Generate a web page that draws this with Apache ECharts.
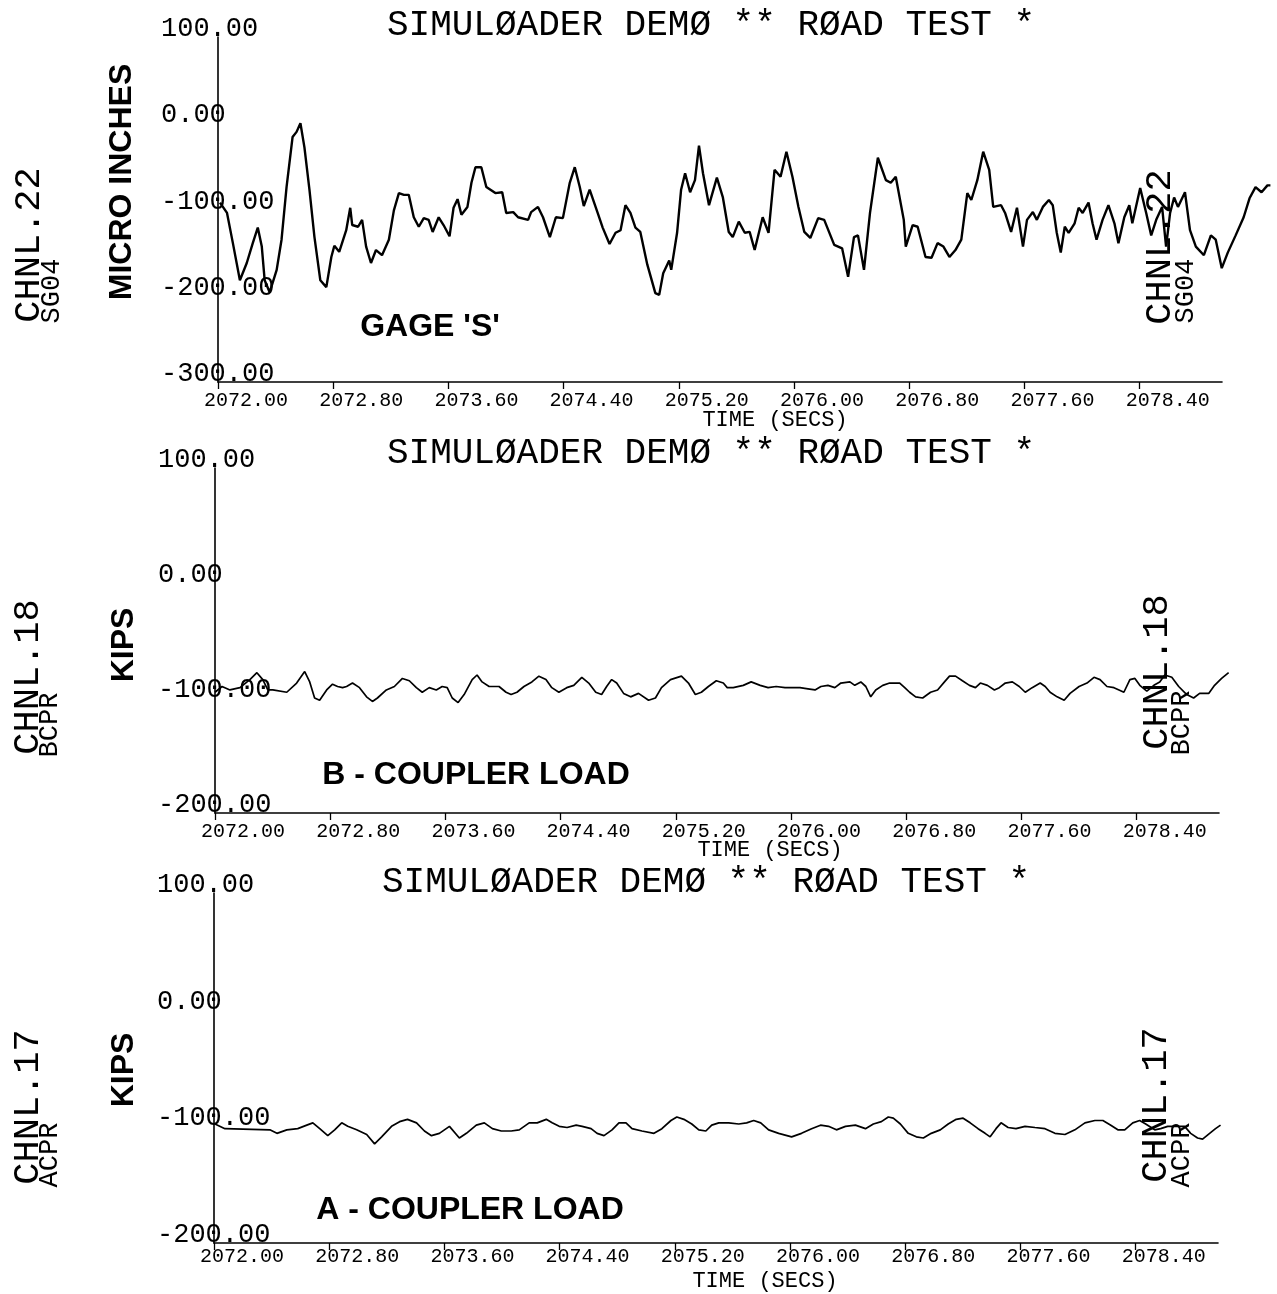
<!DOCTYPE html>
<html><head><meta charset="utf-8">
<script src="https://cdn.jsdelivr.net/npm/echarts@6/dist/echarts.min.js"></script>
<style>html,body{margin:0;padding:0;background:#fff}#c{width:1277px;height:1294px}</style>
</head><body><div id="c"></div>
<script>
// ---------- DATA ----------
const X_TICKS = [2072.00, 2072.80, 2073.60, 2074.40, 2075.20, 2076.00, 2076.80, 2077.60, 2078.40];
const X_MIN = 2072.00, X_MAX = 2078.972;   // drawn axis extent
const X_DATA_MAX = 2079.40;                 // traces run past the axis end
const TITLE = 'SIMULØADER DEMØ ** RØAD TEST *';
const X_NAME = 'TIME (SECS)';

// Panel 1: CHNL.22 SG04, gage 'S' (micro inches)
const T1 = [2072.014,2072.063,2072.104,2072.153,2072.201,2072.243,2072.278,2072.306,2072.326,2072.361,2072.410,2072.444,2072.479,2072.521,2072.549,2072.576,2072.604,2072.639,2072.674,2072.715,2072.757,2072.792,2072.813,2072.847,2072.896,2072.924,2072.938,2072.979,2073.007,2073.035,2073.069,2073.104,2073.146,2073.194,2073.229,2073.264,2073.299,2073.333,2073.368,2073.403,2073.438,2073.472,2073.500,2073.542,2073.576,2073.618,2073.646,2073.674,2073.701,2073.743,2073.771,2073.799,2073.840,2073.875,2073.938,2073.986,2074.014,2074.063,2074.097,2074.167,2074.188,2074.236,2074.271,2074.319,2074.361,2074.410,2074.458,2074.493,2074.528,2074.556,2074.597,2074.653,2074.688,2074.736,2074.778,2074.813,2074.847,2074.882,2074.917,2074.951,2075.000,2075.056,2075.083,2075.111,2075.153,2075.167,2075.208,2075.236,2075.264,2075.299,2075.333,2075.361,2075.389,2075.431,2075.486,2075.528,2075.569,2075.597,2075.639,2075.681,2075.715,2075.750,2075.806,2075.847,2075.889,2075.931,2075.972,2076.014,2076.056,2076.097,2076.139,2076.194,2076.236,2076.306,2076.361,2076.403,2076.444,2076.472,2076.514,2076.556,2076.611,2076.667,2076.701,2076.736,2076.792,2076.806,2076.854,2076.889,2076.944,2076.986,2077.028,2077.069,2077.111,2077.153,2077.194,2077.236,2077.264,2077.306,2077.347,2077.389,2077.417,2077.472,2077.500,2077.542,2077.583,2077.625,2077.653,2077.694,2077.722,2077.764,2077.806,2077.833,2077.861,2077.889,2077.917,2077.944,2077.986,2078.014,2078.042,2078.083,2078.111,2078.139,2078.181,2078.222,2078.264,2078.292,2078.333,2078.368,2078.389,2078.444,2078.486,2078.521,2078.556,2078.597,2078.625,2078.653,2078.681,2078.708,2078.757,2078.792,2078.833,2078.889,2078.938,2078.972,2079.014,2079.056,2079.111,2079.167,2079.208,2079.250,2079.292,2079.333,2079.354];
const V1 = [-92,-104,-139,-182,-162,-139,-121,-143,-182,-196,-170,-135,-74,-16,-10,0,-28,-77,-132,-182,-190,-155,-142,-149,-124,-98,-118,-120,-112,-143,-162,-147,-153,-135,-101,-81,-83,-83,-109,-120,-110,-112,-126,-109,-118,-131,-98,-88,-106,-97,-69,-51,-51,-74,-81,-80,-104,-103,-109,-112,-103,-97,-109,-132,-109,-110,-69,-51,-74,-96,-77,-104,-121,-140,-127,-124,-95,-104,-121,-126,-164,-197,-199,-174,-159,-170,-127,-77,-58,-80,-66,-26,-58,-95,-63,-86,-126,-132,-114,-127,-126,-147,-109,-127,-54,-62,-33,-62,-97,-126,-133,-110,-112,-141,-145,-178,-132,-130,-170,-104,-40,-66,-69,-62,-112,-143,-118,-120,-155,-156,-139,-143,-155,-147,-135,-81,-89,-66,-33,-54,-97,-95,-104,-126,-98,-143,-112,-103,-112,-97,-89,-95,-127,-150,-120,-127,-116,-98,-104,-92,-116,-135,-112,-95,-116,-139,-109,-95,-116,-75,-104,-130,-112,-97,-143,-104,-86,-97,-80,-124,-143,-153,-130,-135,-168,-150,-130,-109,-87,-74,-80,-72,-72];

// Panel 2: CHNL.18 BCPR, B - coupler load (kips)
const T2 = [2072.000,2072.049,2072.104,2072.174,2072.243,2072.292,2072.333,2072.368,2072.403,2072.500,2072.569,2072.625,2072.660,2072.694,2072.729,2072.778,2072.819,2072.854,2072.889,2072.917,2072.958,2073.007,2073.056,2073.097,2073.132,2073.194,2073.250,2073.306,2073.354,2073.403,2073.444,2073.493,2073.542,2073.583,2073.618,2073.653,2073.694,2073.736,2073.792,2073.826,2073.861,2073.910,2073.979,2074.028,2074.063,2074.104,2074.153,2074.208,2074.257,2074.306,2074.347,2074.396,2074.451,2074.500,2074.556,2074.604,2074.653,2074.694,2074.729,2074.764,2074.799,2074.847,2074.896,2074.951,2075.021,2075.069,2075.111,2075.174,2075.250,2075.299,2075.347,2075.389,2075.438,2075.493,2075.542,2075.569,2075.611,2075.681,2075.736,2075.799,2075.854,2075.910,2075.972,2076.014,2076.076,2076.132,2076.181,2076.222,2076.271,2076.319,2076.361,2076.424,2076.458,2076.500,2076.535,2076.569,2076.604,2076.653,2076.701,2076.771,2076.806,2076.840,2076.882,2076.931,2076.986,2077.035,2077.083,2077.118,2077.160,2077.208,2077.257,2077.299,2077.333,2077.382,2077.431,2077.465,2077.507,2077.556,2077.604,2077.646,2077.694,2077.750,2077.785,2077.819,2077.868,2077.917,2077.958,2078.021,2078.076,2078.125,2078.167,2078.215,2078.264,2078.299,2078.333,2078.375,2078.410,2078.444,2078.493,2078.542,2078.583,2078.618,2078.667,2078.715,2078.771,2078.819,2078.861,2078.924,2078.965,2079.014,2079.063];
const V2 = [-95,-90,-93,-91,-84,-78,-84,-93,-93,-95,-87,-77,-86,-100,-102,-93,-88,-90,-91,-90,-87,-91,-99,-103,-100,-93,-90,-83,-85,-91,-95,-91,-93,-90,-91,-100,-104,-97,-84,-80,-86,-90,-90,-95,-97,-95,-90,-86,-81,-84,-91,-95,-91,-89,-82,-87,-95,-97,-90,-84,-87,-96,-99,-96,-102,-100,-91,-84,-81,-87,-97,-95,-90,-85,-87,-91,-91,-89,-86,-89,-91,-90,-91,-91,-91,-92,-93,-90,-89,-91,-87,-86,-89,-86,-90,-99,-93,-89,-87,-87,-91,-95,-99,-100,-95,-93,-86,-81,-81,-85,-89,-91,-87,-89,-93,-91,-87,-86,-90,-95,-91,-87,-90,-95,-99,-102,-96,-90,-87,-82,-84,-90,-91,-93,-95,-84,-83,-89,-94,-89,-86,-80,-82,-90,-97,-100,-96,-96,-89,-83,-78];

// Panel 3: CHNL.17 ACPR, A - coupler load (kips)
const T3 = [2072.007,2072.076,2072.389,2072.438,2072.507,2072.583,2072.646,2072.688,2072.736,2072.792,2072.840,2072.889,2072.931,2072.993,2073.063,2073.118,2073.167,2073.236,2073.292,2073.347,2073.410,2073.465,2073.514,2073.569,2073.639,2073.708,2073.757,2073.826,2073.882,2073.938,2074.000,2074.069,2074.125,2074.194,2074.250,2074.313,2074.354,2074.403,2074.458,2074.521,2074.563,2074.625,2074.667,2074.715,2074.771,2074.819,2074.868,2074.910,2074.979,2075.063,2075.118,2075.181,2075.222,2075.271,2075.326,2075.375,2075.424,2075.465,2075.514,2075.583,2075.653,2075.708,2075.757,2075.806,2075.861,2075.931,2076.021,2076.090,2076.160,2076.222,2076.278,2076.333,2076.396,2076.465,2076.535,2076.590,2076.646,2076.694,2076.729,2076.778,2076.833,2076.889,2076.938,2076.993,2077.056,2077.111,2077.167,2077.215,2077.264,2077.319,2077.368,2077.403,2077.444,2077.479,2077.528,2077.583,2077.646,2077.715,2077.785,2077.854,2077.924,2077.993,2078.063,2078.132,2078.188,2078.243,2078.292,2078.340,2078.396,2078.444,2078.486,2078.549,2078.590,2078.639,2078.757,2078.799,2078.847,2078.882,2078.931,2078.972,2079.007];
const V3 = [-98,-102,-103,-106,-103,-102,-99,-97,-102,-108,-103,-97,-100,-103,-107,-115,-109,-100,-96,-94,-97,-104,-108,-106,-100,-110,-106,-99,-97,-102,-104,-104,-103,-97,-97,-94,-97,-100,-101,-99,-100,-102,-106,-108,-103,-97,-97,-102,-104,-106,-102,-95,-92,-94,-98,-103,-104,-99,-97,-97,-98,-97,-95,-97,-103,-106,-109,-106,-102,-99,-100,-103,-100,-99,-102,-98,-96,-92,-93,-98,-106,-109,-110,-106,-103,-98,-94,-93,-97,-102,-106,-109,-102,-97,-101,-102,-100,-101,-102,-106,-107,-103,-97,-95,-95,-99,-103,-103,-97,-95,-98,-103,-102,-100,-100,-106,-110,-111,-106,-102,-99];

const Y_RANGES = [[-300, 100], [-200, 100], [-200, 100]];
const CHANNELS = ['CHNL.22', 'CHNL.18', 'CHNL.17'];
const GAGES = ['SG04', 'BCPR', 'ACPR'];
const UNITS = ['MICRO INCHES', 'KIPS', 'KIPS'];
const CAPTIONS = ["GAGE 'S'", 'B - COUPLER LOAD', 'A - COUPLER LOAD'];

// ---------- LAYOUT ----------
const MONO = '"Liberation Mono","DejaVu Sans Mono",monospace';
const SANS = '"Liberation Sans",Arial,sans-serif';
const AXIS_W = 1004;
const PX_PER_SEC = AXIS_W / (X_MAX - X_MIN);
const GRIDS = [
  {left: 218, top: 37, width: AXIS_W, height: 345},
  {left: 215, top: 468, width: AXIS_W, height: 345},
  {left: 214, top: 893, width: AXIS_W, height: 350}
];
const X_LABEL_MARGIN = [9, 9, 4];
// data grids share origin and scale with the axis grids but are wider, so traces can run past the axis end
const DATA_GRIDS = GRIDS.map(g => ({left: g.left, top: g.top, height: g.height,
  width: Math.round((X_DATA_MAX - X_MIN) * PX_PER_SEC)}));

const zip = (t, v) => t.slice(0, Math.min(t.length, v.length)).map((x, i) => [x, v[i]]);
const SERIES_DATA = [zip(T1, V1), zip(T2, V2), zip(T3, V3)];
const LW = [2.4, 1.7, 1.7];

const axisLineStyle = {color: '#000', width: 1.6};
const xAxes = [], yAxes = [];
GRIDS.forEach((g, i) => {
  xAxes.push({
    type: 'value', gridIndex: i, min: X_MIN, max: X_MAX,
    axisLine: {show: true, onZero: false, lineStyle: axisLineStyle},
    axisTick: {show: true, length: 7, customValues: X_TICKS, lineStyle: {color: '#000', width: 1.3}},
    axisLabel: {customValues: X_TICKS, formatter: v => v.toFixed(2), align: 'left', padding: [0, 0, 0, -14],
      margin: X_LABEL_MARGIN[i], fontFamily: MONO, fontSize: 20, color: '#000'},
    splitLine: {show: false}
  });
  yAxes.push({
    type: 'value', gridIndex: i, min: Y_RANGES[i][0], max: Y_RANGES[i][1], interval: 100,
    axisLine: {show: true, onZero: false, lineStyle: axisLineStyle},
    axisTick: {show: false},
    splitLine: {show: false},
    axisLabel: {formatter: v => v.toFixed(2), align: 'left', verticalAlign: 'bottom', lineHeight: 16,
      margin: 57, fontFamily: MONO, fontSize: 27, color: '#000', showMinLabel: true, showMaxLabel: true}
  });
});
DATA_GRIDS.forEach((g, i) => {
  xAxes.push({type: 'value', gridIndex: 3 + i, min: X_MIN, max: X_DATA_MAX, show: false});
  yAxes.push({type: 'value', gridIndex: 3 + i, min: Y_RANGES[i][0], max: Y_RANGES[i][1], show: false});
});
const series = SERIES_DATA.map((d, i) => ({
  type: 'line', xAxisIndex: 3 + i, yAxisIndex: 3 + i, data: d, showSymbol: false, symbol: 'none',
  lineStyle: {color: '#000', width: LW[i]}, clip: false, silent: true, animation: false
}));

function txt(x, y, text, font, rot) {
  return {type: 'text', x: x, y: y, rotation: rot || 0, z: 100, silent: true,
    style: {text: text, font: font, fill: '#000', align: 'center', verticalAlign: 'middle',
      textAlign: 'center', textVerticalAlign: 'middle'}};
}
const R = Math.PI / 2;
const TITLE_POS = [[711, 25], [711, 453], [706, 882]];
const XNAME_POS = [[775, 420], [770, 850], [765, 1281]];
const CH_L = [[29, 245], [28, 677], [28, 1107]];
const GG_L = [[52, 291], [50, 725], [50, 1155]];
const CH_R = [[1160, 247], [1157, 672], [1156, 1105]];
const GG_R = [[1186, 291], [1182, 723], [1182, 1155]];
const UNIT_POS = [[122, 182], [124, 645], [124, 1070]];
const CAP_POS = [[430, 327], [476, 775], [470, 1210]];

const graphics = [];
for (let i = 0; i < 3; i++) {
  graphics.push(txt(TITLE_POS[i][0], TITLE_POS[i][1], TITLE, '36px ' + MONO));
  graphics.push(txt(XNAME_POS[i][0], XNAME_POS[i][1], X_NAME, '22px ' + MONO));
  graphics.push(txt(CH_L[i][0], CH_L[i][1], CHANNELS[i], '37px ' + MONO, R));
  graphics.push(txt(GG_L[i][0], GG_L[i][1], GAGES[i], '27px ' + MONO, R));
  graphics.push(txt(CH_R[i][0], CH_R[i][1], CHANNELS[i], '37px ' + MONO, R));
  graphics.push(txt(GG_R[i][0], GG_R[i][1], GAGES[i], '27px ' + MONO, R));
  graphics.push(txt(UNIT_POS[i][0], UNIT_POS[i][1], UNITS[i], 'bold 32px ' + SANS, R));
  graphics.push(txt(CAP_POS[i][0], CAP_POS[i][1], CAPTIONS[i], 'bold 32px ' + SANS));
}

const chart = echarts.init(document.getElementById('c'), null, {renderer: 'canvas'});
chart.setOption({
  backgroundColor: '#fff', animation: false,
  grid: GRIDS.concat(DATA_GRIDS).map(g => Object.assign({containLabel: false}, g)),
  xAxis: xAxes, yAxis: yAxes, series: series, graphic: graphics
});
</script></body></html>
